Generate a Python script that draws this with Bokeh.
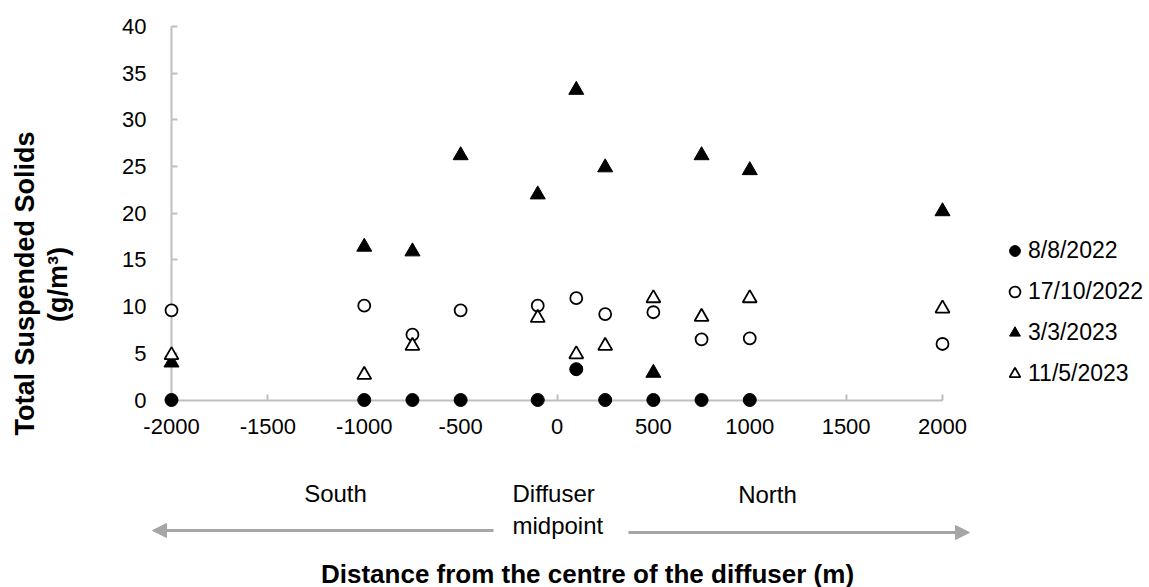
import math
from bokeh.plotting import figure
from bokeh.models import (Range1d, SingleIntervalTicker, Legend, LegendItem,
                          Arrow, NormalHead, ColumnDataSource, PrintfTickFormatter)
from bokeh.core.properties import value
from bokeh.embed import file_html
from bokeh.resources import INLINE

# ---- data ----
distance = [-2000, -1000, -750, -500, -100, 100, 250, 500, 750, 1000, 2000]
series_names = ["8/8/2022", "17/10/2022", "3/3/2023", "11/5/2023"]
tss_2022_08_08 = [0, 0, 0, 0, 0, 3.3, 0, 0, 0, 0, float("nan")]
tss_2022_10_17 = [9.6, 10.1, 7.0, 9.6, 10.1, 10.9, 9.2, 9.4, 6.5, 6.6, 6.0]
tss_2023_03_03 = [4.0, 16.4, 15.9, 26.2, 22.0, 33.2, 24.9, 2.9, 26.2, 24.6, 20.2]
tss_2023_05_11 = [4.8, 2.7, 5.8, float("nan"), 8.8, 4.9, 5.8, 10.9, 8.9, 10.9, 9.8]
x_ticks_interval = 500
y_ticks_interval = 5
x_title = "Distance from the centre of the diffuser (m)"
y_title = ["Total Suspended Solids", "(g/m\u00b3)"]
direction_labels = ["South", "Diffuser", "midpoint", "North"]

# ---- layout (pixel mapping so the frame fills the whole canvas) ----
W, H = 1149, 587
PX_XM2000, PX_X2000 = 171.0, 942.0
PY_Y0, PY_Y40 = 399.5, 26.0
xs = (PX_X2000 - PX_XM2000) / 4000.0
ys = (PY_Y0 - PY_Y40) / 40.0
x_start = -2000 - PX_XM2000 / xs
x_end = x_start + W / xs
y_end = 40 + PY_Y40 / ys
y_start = -(H - PY_Y0) / ys


def px(xp):
    return x_start + xp / xs


def py(yp):
    return y_end - yp / ys


FONT = value("Liberation Sans")

p = figure(width=W, height=H, output_backend="svg", toolbar_location=None,
           x_range=Range1d(x_start, x_end), y_range=Range1d(y_start, y_end),
           min_border=0, min_border_left=0, min_border_right=0,
           min_border_top=0, min_border_bottom=0)
p.outline_line_color = None
p.xgrid.visible = False
p.ygrid.visible = False
p.background_fill_color = "white"
p.border_fill_color = "white"

AX = "#bfbfbf"
for ax in (p.xaxis[0], p.yaxis[0]):
    ax.level = "underlay"
    ax.axis_line_color = AX
    ax.axis_line_width = 2
    ax.major_tick_line_color = AX
    ax.major_tick_line_width = 2
    ax.major_tick_in = 6
    ax.major_tick_out = 0
    ax.minor_tick_line_color = None
    ax.major_label_text_font = "Liberation Sans"
    ax.major_label_text_font_size = "22px"
    ax.major_label_text_color = "#000000"
    ax.formatter = PrintfTickFormatter(format="%d")

p.xaxis[0].fixed_location = 0
p.xaxis[0].bounds = (-2000, 2000)
p.xaxis[0].ticker = SingleIntervalTicker(interval=x_ticks_interval)
p.xaxis[0].major_label_standoff = 15
p.yaxis[0].fixed_location = -2000
p.yaxis[0].bounds = (0, 40)
p.yaxis[0].ticker = SingleIntervalTicker(interval=y_ticks_interval)
p.yaxis[0].major_label_standoff = 21

src = ColumnDataSource(dict(x=distance, a=tss_2022_08_08, b=tss_2022_10_17,
                            c=tss_2023_03_03, d=tss_2023_05_11))

r1 = p.scatter("x", "a", source=src, marker="circle", size=13,
               fill_color="black", line_color="black")
r2 = p.scatter("x", "b", source=src, marker="circle", size=12,
               fill_color="white", line_color="black", line_width=1.8)
r3 = p.scatter("x", "c", source=src, marker="triangle", size=15,
               fill_color="black", line_color="black")
r4 = p.scatter("x", "d", source=src, marker="triangle", size=14,
               fill_color="white", line_color="black", line_width=1.8)

legend = Legend(items=[LegendItem(label=n, renderers=[r]) for n, r in
                       zip(series_names, [r1, r2, r3, r4])],
                location=(1001, 200), orientation="vertical",
                glyph_width=27, glyph_height=27, label_standoff=0,
                spacing=14, padding=0, margin=0,
                border_line_color=None, background_fill_alpha=0,
                label_text_font="Liberation Sans", label_text_font_size="23px",
                label_text_color="#000000")
p.add_layout(legend)

# ---- direction annotations below the axis ----
ARROW = "#a6a6a6"
p.add_layout(Arrow(end=NormalHead(size=14, fill_color=ARROW, line_color=ARROW),
                   x_start=px(493), y_start=py(530), x_end=px(152), y_end=py(530),
                   line_color=ARROW, line_width=3))
p.add_layout(Arrow(end=NormalHead(size=14, fill_color=ARROW, line_color=ARROW),
                   x_start=px(628), y_start=py(532), x_end=px(969), y_end=py(532),
                   line_color=ARROW, line_width=3))

p.text(x=[px(335), px(767)], y=[py(493), py(494)],
       text=[direction_labels[0], direction_labels[3]],
       text_align="center", text_baseline="middle", text_font=FONT,
       text_font_size="24px", text_color="#000000")
p.text(x=[px(512), px(512)], y=[py(493), py(525)],
       text=[direction_labels[1], direction_labels[2]],
       text_align="left", text_baseline="middle", text_font=FONT,
       text_font_size="24px", text_color="#000000")

# ---- titles ----
p.text(x=[px(587)], y=[py(573)], text=[x_title], text_align="center",
       text_baseline="middle", text_font=FONT, text_font_size="26px",
       text_font_style="bold", text_color="#000000")
p.text(x=[px(24), px(57)], y=[py(283), py(284)], text=y_title,
       angle=math.pi / 2, text_align="center", text_baseline="middle",
       text_font=FONT, text_font_size="27px", text_font_style="bold",
       text_color="#000000")

open("out.html", "w").write(file_html(p, INLINE))
